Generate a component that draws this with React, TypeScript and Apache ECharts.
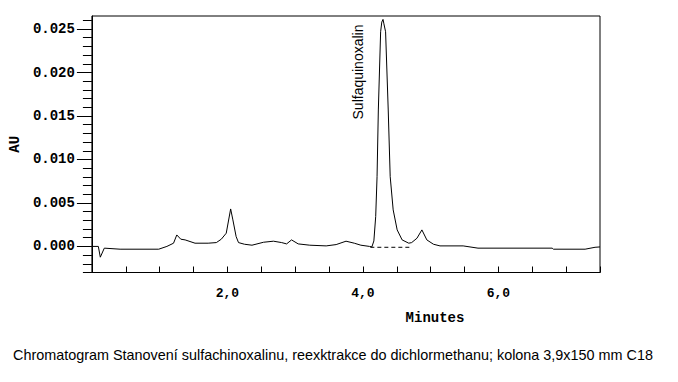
import React, { useEffect, useRef } from "react";
import * as echarts from "echarts";

// Chromatogram trace: [minutes, AU]
const traceTime = [
  0, 0.095, 0.124, 0.183, 0.416, 0.986, 1.107, 1.205, 1.253, 1.312, 1.376, 1.522, 1.716, 1.837, 1.91, 1.983,
  2.048, 2.081, 2.129, 2.164, 2.252, 2.363, 2.534, 2.68, 2.801, 2.874, 2.947, 3.045, 3.216, 3.458, 3.605,
  3.751, 3.873, 3.97, 4.097, 4.133, 4.162, 4.189, 4.209, 4.228, 4.262, 4.279, 4.297, 4.31, 4.335, 4.374,
  4.403, 4.447, 4.506, 4.579, 4.677, 4.72, 4.798, 4.871, 4.944, 5.042, 5.138, 5.48, 5.699, 6.794, 6.813,
  7.28, 7.427, 7.5,
];
const traceAU = [
  0, 0, -0.00124, -0.0002, -0.00032, -0.00032, 0, 0.00037, 0.00132, 0.00083, 0.00075, 0.00037, 0.00037, 0.00044,
  0.00083, 0.00152, 0.00431, 0.00305, 0.00113, 0.00044, 0.00025, 0.00014, 0.00048, 0.0006, 0.00044, 0.00029,
  0.00075, 0.00029, 0.00014, 0.00006, 0.00021, 0.0006, 0.00037, 0.00014, 0, -0.00005, 0.00063, 0.00343, 0.00802,
  0.01569, 0.02469, 0.0258, 0.02611, 0.0256, 0.02469, 0.01569, 0.00802, 0.0042, 0.0019, 0.00075, 0.00037, 0.00044,
  0.00094, 0.0019, 0.00075, 0.00025, 0.00006, 0.00006, -0.0002, -0.0002, -0.00032, -0.00032, -0.0001, -0.00006,
];
// Integration baseline (dashed)
const baseTime = [4.11, 4.725];
const baseAU = [-0.0001, -0.0001];

const yMajorTicks = [0, 0.005, 0.01, 0.015, 0.02, 0.025];
const yMinorTicks = [
  -0.003, -0.002, -0.001, 0.001, 0.002, 0.003, 0.004, 0.006, 0.007, 0.008, 0.009, 0.011, 0.012, 0.013, 0.014,
  0.016, 0.017, 0.018, 0.019, 0.021, 0.022, 0.023, 0.024, 0.026,
];
const xLabelTicks = [2, 4, 6];
const peakName = "Sulfaquinoxalin";
const xName = "Minutes";
const yName = "AU";
const caption =
  "Chromatogram Stanovení sulfachinoxalinu, reexktrakce do dichlormethanu; kolona 3,9x150 mm C18";

export default function App() {
  const ref = useRef<HTMLDivElement>(null);
  useEffect(() => {
    if (!ref.current) return;
    const chart = echarts.init(ref.current, null, { renderer: "svg" });
    const mono = "Liberation Mono";
    chart.setOption({
      animation: false,
      backgroundColor: "#fff",
      grid: {
        left: 86.5,
        top: 16,
        right: 78,
        bottom: 109.5,
        show: true,
        borderColor: "#000",
        borderWidth: 1,
      },
      title: {
        text: caption,
        left: 8,
        top: 343,
        textStyle: { fontFamily: "Liberation Sans", fontSize: 14.4, fontWeight: "normal", color: "#000" },
      },
      xAxis: {
        type: "value",
        min: 0,
        max: 7.5,
        interval: 0.5,
        splitLine: { show: false },
        axisLine: { show: true, onZero: false, lineStyle: { color: "#000", width: 1 } },
        axisTick: { show: true, inside: true, length: 6, lineStyle: { color: "#000" } },
        axisLabel: {
          customValues: xLabelTicks,
          margin: 14,
          color: "#000",
          fontFamily: mono,
          fontWeight: "bold",
          fontSize: 13,
          formatter: (v: number) => v.toFixed(1).replace(".", ","),
        },
      },
      yAxis: [
        {
          type: "value",
          min: -0.003,
          max: 0.0265,
          splitLine: { show: false },
          axisLine: { show: true, onZero: false, lineStyle: { color: "#000", width: 1 } },
          axisTick: { show: true, customValues: yMajorTicks, length: 15, lineStyle: { color: "#000" } },
          axisLabel: {
            customValues: yMajorTicks,
            margin: 17,
            color: "#000",
            fontFamily: mono,
            fontWeight: "bold",
            fontSize: 14,
            formatter: (v: number) => v.toFixed(3),
          },
          name: yName,
          nameLocation: "middle",
          nameGap: 62,
          nameRotate: 90,
          nameTextStyle: { fontFamily: mono, fontWeight: "bold", fontSize: 14, color: "#000" },
        },
        {
          type: "value",
          min: -0.003,
          max: 0.0265,
          position: "left",
          splitLine: { show: false },
          axisLine: { show: false, onZero: false },
          axisTick: { show: true, customValues: yMinorTicks, length: 9, lineStyle: { color: "#000" } },
          axisLabel: { show: false },
        },
      ],
      series: [
        {
          type: "line",
          data: traceTime.map((t, i) => [t, traceAU[i]]),
          showSymbol: false,
          symbol: "none",
          lineStyle: { color: "#000", width: 1 },
          z: 3,
        },
        {
          type: "line",
          data: baseTime.map((t, i) => [t, baseAU[i]]),
          symbol: "none",
          lineStyle: { color: "#000", width: 1, type: [4, 3] },
          z: 2,
        },
      ],
      graphic: [
        {
          type: "text",
          x: 358,
          y: 72,
          rotation: Math.PI / 2,
          style: {
            text: peakName,
            fontFamily: "Liberation Sans",
            fontSize: 14,
            fill: "#000",
            align: "center",
            verticalAlign: "middle",
          },
        },
        {
          type: "text",
          x: 435,
          y: 318,
          style: {
            text: xName,
            fontFamily: mono,
            fontWeight: "bold",
            fontSize: 14,
            fill: "#000",
            align: "center",
            verticalAlign: "middle",
          },
        },
      ],
    });
    return () => chart.dispose();
  }, []);
  return <div ref={ref} style={{ width: 678, height: 382, position: "absolute", left: 0, top: 0 }} />;
}
